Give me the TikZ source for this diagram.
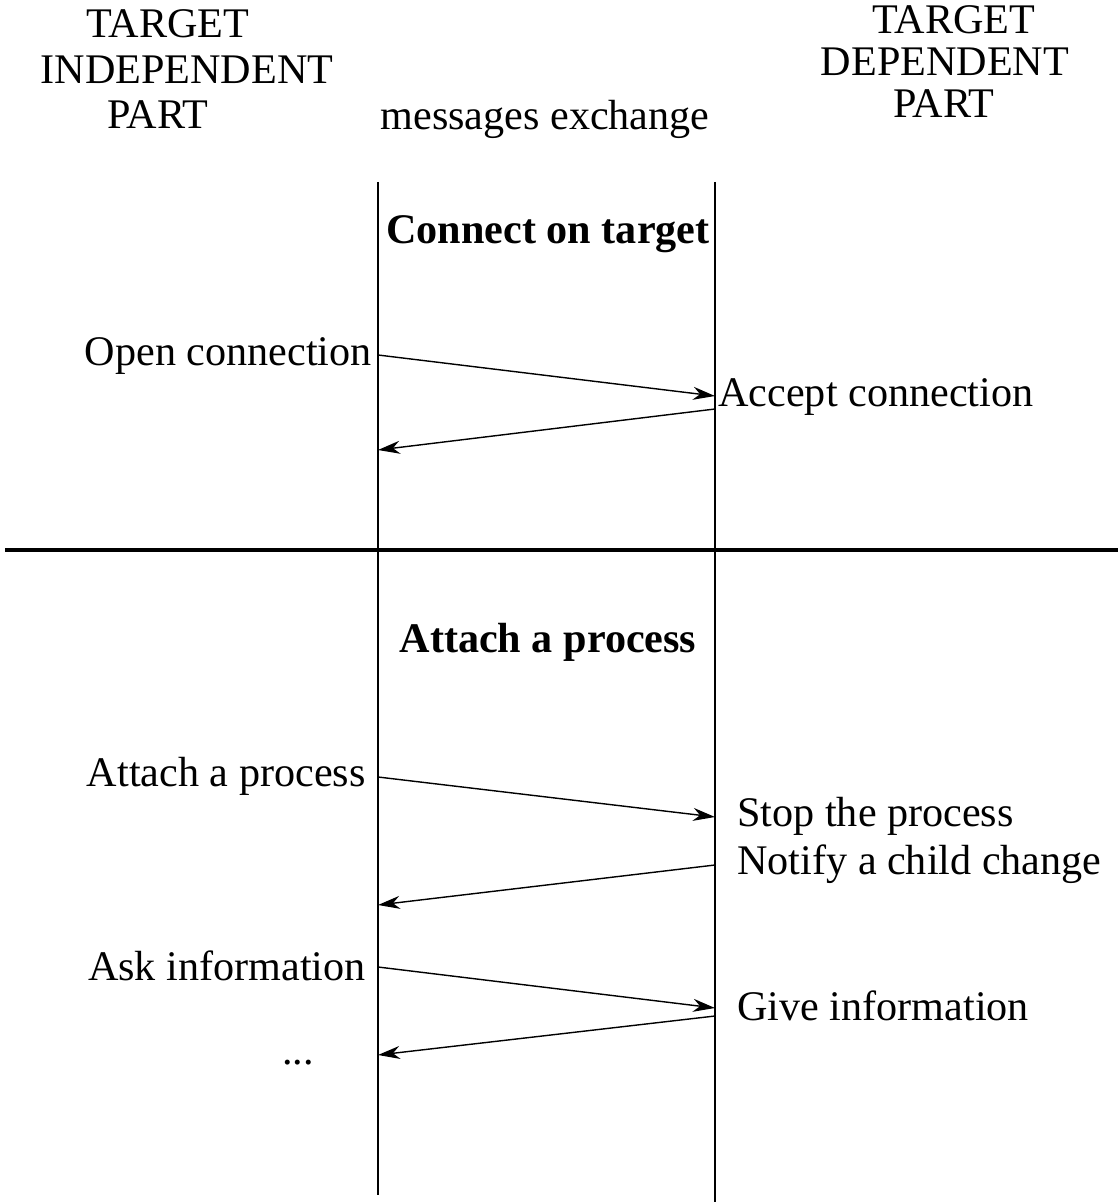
\documentclass[tikz,border=0pt]{standalone}
\usepackage{fontspec}
\setmainfont{Liberation Serif}
\usetikzlibrary{arrows.meta, positioning}

\begin{document}
\begin{tikzpicture}[x=0.02cm, y=-0.02cm,
    every node/.style={font=\fontsize{24}{26}\selectfont, inner sep=0pt},
    lifeline/.style={line width=1.1pt},
    separator/.style={line width=2.4pt},
    msg/.style={line width=0.8pt, -{Stealth[length=4.4mm, width=2.6mm, inset=1.4mm]}},
    header/.style={anchor=base},
    title/.style={font=\fontsize{24}{26}\selectfont\bfseries, anchor=base}]
        \useasboundingbox (0,0) rectangle (1118,1202); % page size

        % Headers
        \node[header] (indep1) at (168,38) {TARGET}; % left side
        \node[header] (indep2) at (187,84) {INDEPENDENT};
        \node[header] (indep3) at (158,129) {PART};
        \node[header] (exch) at (545,130) {messages exchange}; % middle
        \node[header] (dep1) at (954,34) {TARGET}; % right side
        \node[header] (dep2) at (945,76) {DEPENDENT};
        \node[header] (dep3) at (944,118) {PART};

        % Lifelines and separator
        \coordinate (ltop) at (378,182); \coordinate (lbot) at (378,1195);
        \coordinate (rtop) at (715,182); \coordinate (rbot) at (715,1202);
        \coordinate (sepl) at (5,550); \coordinate (sepr) at (1118,550);
        \draw[lifeline] (ltop) -- (lbot); % independent side
        \draw[lifeline] (rtop) -- (rbot); % dependent side
        \draw[separator] (sepl) -- (sepr); % between the two phases

        % Phase titles
        \node[title] (connect) at (548,244) {Connect on target};
        \node[title] (attach) at (548,652) {Attach a process};

        % Message ends
        \coordinate (l1) at (378,355); \coordinate (r1) at (715,396);
        \coordinate (r2) at (715,409); \coordinate (l2) at (378,450);
        \coordinate (l3) at (378,777); \coordinate (r3) at (715,817);
        \coordinate (r4) at (715,865); \coordinate (l4) at (378,905);
        \coordinate (l5) at (378,967); \coordinate (r5) at (715,1008);
        \coordinate (r6) at (715,1016); \coordinate (l6) at (378,1055);

        % Messages
        \draw[msg] (l1) -- (r1); % open
        \draw[msg] (r2) -- (l2); % accept
        \draw[msg] (l3) -- (r3); % attach
        \draw[msg] (r4) -- (l4); % notify
        \draw[msg] (l5) -- (r5); % ask
        \draw[msg] (r6) -- (l6); % give

        % Labels
        \node[anchor=base east] (open) at (372,365) {Open connection};
        \node[anchor=base west] (accept) at (718,406) {Accept connection};
        \node[anchor=base east] (attachp) at (366,786) {Attach a process};
        \node[anchor=base west] (stop) at (737,826) {Stop the process};
        \node[anchor=base west] (notify) at (737,874) {Notify a child change};
        \node[anchor=base east] (ask) at (366,980) {Ask information};
        \node[anchor=base west] (give) at (737,1020) {Give information};
        \node[anchor=base] (dots) at (298,1064) {...};
\end{tikzpicture}
\end{document}
